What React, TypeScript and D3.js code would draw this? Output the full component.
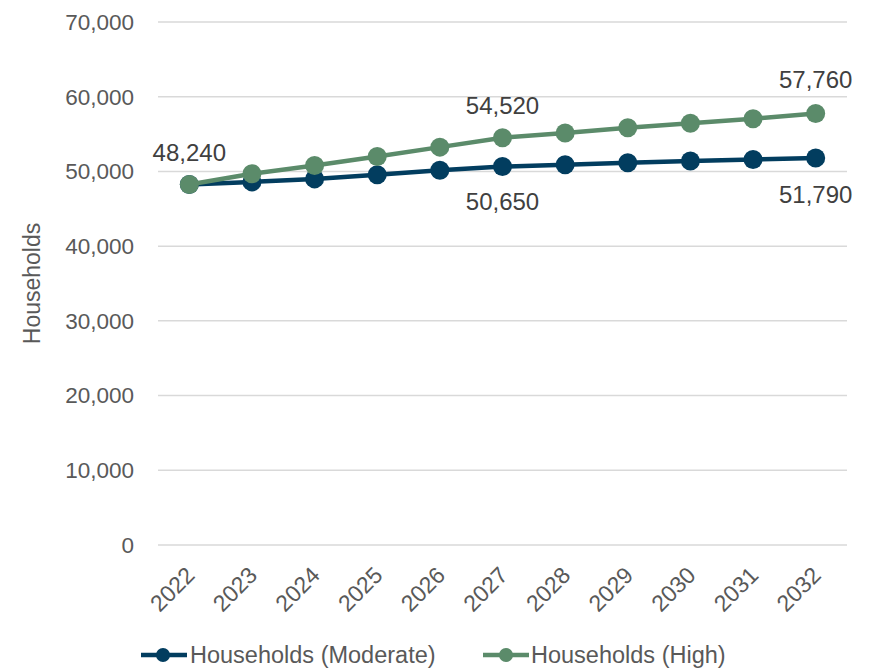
import React from 'react';
import * as d3 from 'd3';

const years = ['2022', '2023', '2024', '2025', '2026', '2027', '2028', '2029', '2030', '2031', '2032'];
const moderate = [48240, 48600, 49000, 49550, 50150, 50650, 50900, 51150, 51400, 51600, 51790];
const high = [48240, 49700, 50800, 52000, 53250, 54520, 55150, 55850, 56450, 57050, 57760];
const yTicks = [0, 10000, 20000, 30000, 40000, 50000, 60000, 70000];

const NAVY = '#023d5f';
const GREEN = '#5b8b6a';
const FONT = '"Liberation Sans", Arial, sans-serif';

export default function App() {
  const width = 872;
  const height = 668;
  const margin = { top: 22, right: 25, bottom: 123, left: 158 };

  const x = d3.scaleBand()
    .domain(years)
    .range([margin.left, width - margin.right]);
  const cx = (d: string) => x(d)! + x.bandwidth() / 2;

  const y = d3.scaleLinear()
    .domain([0, 70000])
    .range([height - margin.bottom, margin.top]);

  const line = d3.line<number>()
    .x((d, i) => cx(years[i]))
    .y(d => y(d));

  const fmt = d3.format(',');

  // data labels: series, index, vertical offset
  const labels: { v: number[]; i: number; dy: number }[] = [
    { v: high, i: 0, dy: -32 },
    { v: high, i: 5, dy: -32 },
    { v: moderate, i: 5, dy: 35 },
    { v: high, i: 10, dy: -34 },
    { v: moderate, i: 10, dy: 37 },
  ];

  return (
    <svg width={width} height={height} style={{ position: 'absolute', left: 0, top: 0, background: '#fff' }} fontFamily={FONT}>
      {yTicks.map(t => (
        <g key={t}>
          <line x1={margin.left} x2={width - margin.right} y1={y(t)} y2={y(t)} stroke="#d9d9d9" strokeWidth={1.5} />
          <text x={134} y={y(t)} dy="0.35em" textAnchor="end" fontSize={22.5} fill="#595959">{fmt(t)}</text>
        </g>
      ))}
      <text transform={`translate(40,${(margin.top + height - margin.bottom) / 2}) rotate(-90)`} textAnchor="middle" fontSize={23} fill="#595959">Households</text>
      {years.map(d => (
        <text key={d} transform={`translate(${cx(d) + 1},${height - margin.bottom + 26}) rotate(-45)`} textAnchor="end" dy="0.35em" fontSize={23} fill="#595959">{d}</text>
      ))}

      <path d={line(moderate)!} fill="none" stroke={NAVY} strokeWidth={4.5} />
      {moderate.map((v, i) => <circle key={i} cx={cx(years[i])} cy={y(v)} r={9.5} fill={NAVY} />)}
      <path d={line(high)!} fill="none" stroke={GREEN} strokeWidth={4.5} />
      {high.map((v, i) => <circle key={i} cx={cx(years[i])} cy={y(v)} r={9.5} fill={GREEN} />)}

      {labels.map((l, k) => (
        <text key={k} x={cx(years[l.i])} y={y(l.v[l.i]) + l.dy} dy="0.35em" textAnchor="middle" fontSize={24} fill="#404040">{fmt(l.v[l.i])}</text>
      ))}

      <g>
        <line x1={141} x2={187} y1={655} y2={655} stroke={NAVY} strokeWidth={4.5} />
        <circle cx={163} cy={655} r={7} fill={NAVY} />
        <text x={190} y={655} dy="0.35em" fontSize={23.5} fill="#595959">Households (Moderate)</text>
        <line x1={483} x2={529} y1={655} y2={655} stroke={GREEN} strokeWidth={4.5} />
        <circle cx={506} cy={655} r={7} fill={GREEN} />
        <text x={531} y={655} dy="0.35em" fontSize={23.5} fill="#595959">Households (High)</text>
      </g>
    </svg>
  );
}
